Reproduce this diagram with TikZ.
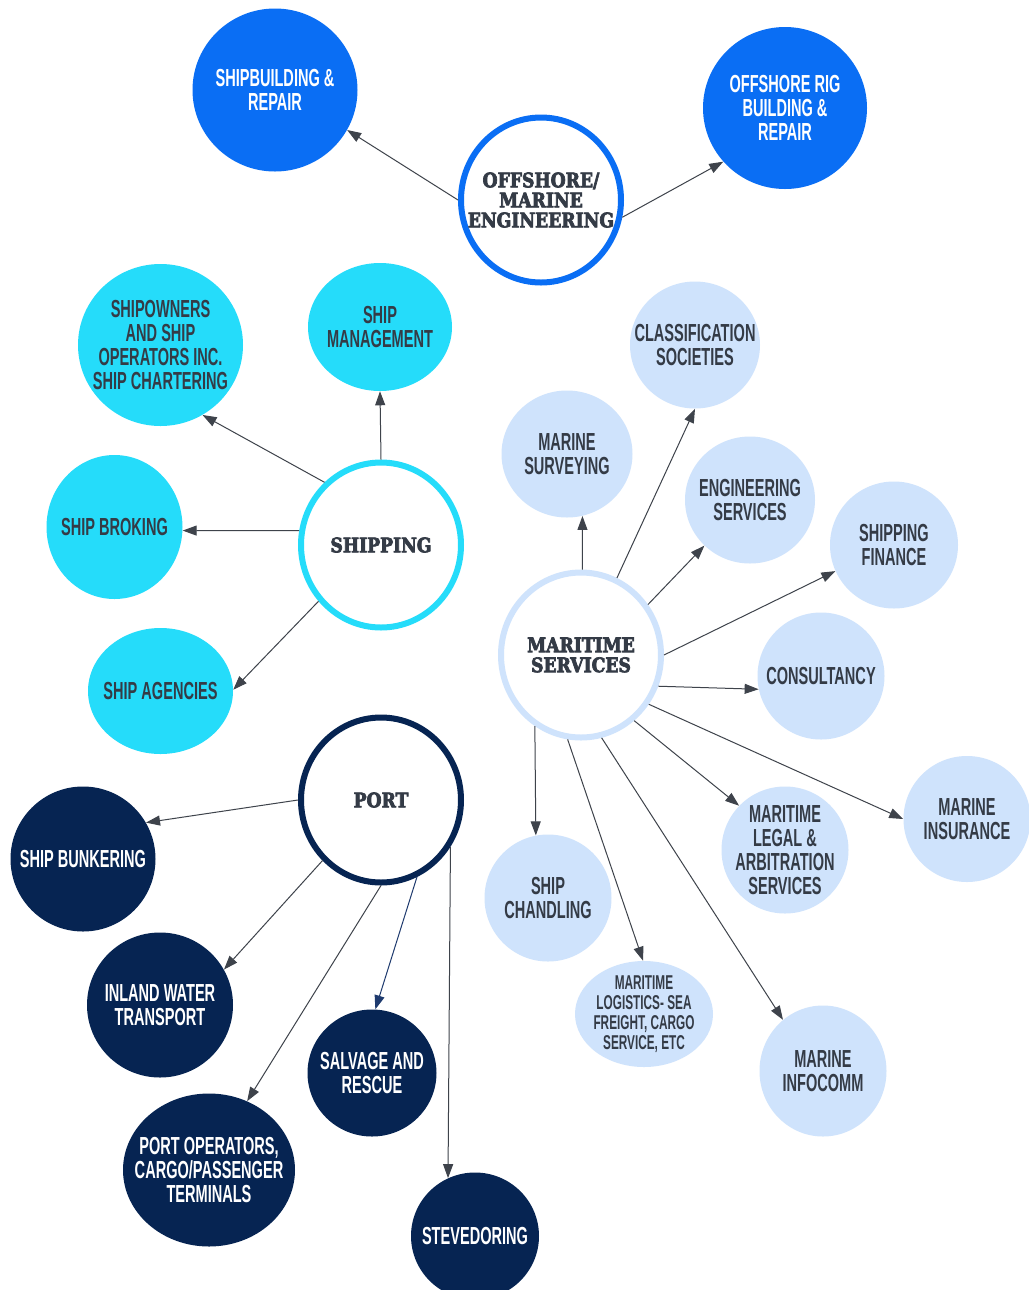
\documentclass[tikz,border=0pt]{standalone}
\usepackage{fontspec}
\usetikzlibrary{shapes.geometric,arrows.meta}
\newfontfamily\lblfont[FakeStretch=0.59]{Liberation Sans}
\newfontfamily\hubfont[UprightFont={* Bold}, FakeStretch=0.86, FakeBold=3.5]{DejaVu Serif}
\definecolor{cblue}{HTML}{0A6EF4}
\definecolor{ccyan}{HTML}{25DCFA}
\definecolor{clight}{HTML}{CFE3FC}
\definecolor{cnavy}{HTML}{062452}
\definecolor{txt}{HTML}{343B46}
\definecolor{arr}{HTML}{3E434B}
\definecolor{arrnavy}{HTML}{1E3A6E}
\tikzset{
  sz/.style 2 args={minimum width=#1*0.75pt, minimum height=#2*0.75pt},
  leaf/.style={ellipse, inner sep=0pt, draw=none},
  lt/.style={align=center, inner sep=0pt, text=txt, font=\lblfont\bfseries\fontsize{18.5}{18}\selectfont},
  ltw/.style={lt, text=white},
  lts/.style={lt, font=\lblfont\bfseries\fontsize{15}{15}\selectfont},
  hub/.style={ellipse, inner sep=0pt, fill=white, line width=4.5pt, minimum width=120pt, minimum height=123.75pt},
  ht/.style={align=center, inner sep=0pt, text=txt, font=\hubfont\fontsize{15}{15}\selectfont},
  conn/.style={draw=arr, line width=0.75pt, -{Triangle[length=10.5pt,width=7.5pt]}},
  bluenode/.style={leaf, fill=cblue},
  cyannode/.style={leaf, fill=ccyan},
  lightnode/.style={leaf, fill=clight},
  navynode/.style={leaf, fill=cnavy}
}
\begin{document}
\begin{tikzpicture}[x=0.75pt,y=-0.75pt]
\fill[white] (0,0) rectangle (1029,1290);
\useasboundingbox (0,0) rectangle (1029,1290);

% Offshore / Marine engineering
\node[hub, draw=cblue, label={[ht]center:{OFFSHORE/\\MARINE\\ENGINEERING}}] (off) at (541,200) {};
\node[bluenode, sz={165}{163}, label={[ltw]center:{SHIPBUILDING \&\\REPAIR}}] (sb) at (275,90) {};
\node[bluenode, sz={164}{162}, label={[ltw]center:{OFFSHORE RIG\\BUILDING \&\\REPAIR}}] (rig) at (785,108) {};

% Shipping
\node[hub, draw=ccyan, label={[ht]center:{SHIPPING}}] (shp) at (381,545) {};
\node[cyannode, sz={165}{162}, label={[lt]center:{SHIPOWNERS\\AND SHIP\\OPERATORS INC.\\SHIP CHARTERING}}] (own) at (160.5,345) {};
\node[cyannode, sz={144}{128}, label={[lt]center:{SHIP\\MANAGEMENT}}] (mgm) at (380,327) {};
\node[cyannode, sz={136}{144}, label={[lt]center:{SHIP BROKING}}] (brk) at (114.5,527) {};
\node[cyannode, sz={145}{126}, label={[lt]center:{SHIP AGENCIES}}] (agn) at (160.5,691) {};

% Maritime services
\node[hub, draw=clight, label={[ht]center:{MARITIME\\SERVICES}}] (mar) at (581,655) {};
\node[lightnode, sz={130}{127}, label={[lt]center:{CLASSIFICATION\\SOCIETIES}}] (cls) at (695,345) {};
\node[lightnode, sz={131}{127}, label={[lt]center:{MARINE\\SURVEYING}}] (srv) at (567,454) {};
\node[lightnode, sz={130}{127}, label={[lt]center:{ENGINEERING\\SERVICES}}] (eng) at (750,500) {};
\node[lightnode, sz={128}{127}, label={[lt]center:{SHIPPING\\FINANCE}}] (fin) at (894,545) {};
\node[lightnode, sz={127}{127}, label={[lt]center:{CONSULTANCY}}] (con) at (821,676) {};
\node[lightnode, sz={127}{126}, label={[lt]center:{MARINE\\INSURANCE}}] (ins) at (967,819) {};
\node[lightnode, sz={127}{127}, label={[lt]center:{MARITIME\\LEGAL \&\\ARBITRATION\\SERVICES}}] (leg) at (785,850) {};
\node[lightnode, sz={127}{127}, label={[lt]center:{SHIP\\CHANDLING}}] (chd) at (548,898) {};
\node[lightnode, sz={138}{106}, label={[lts]center:{MARITIME\\LOGISTICS- SEA\\FREIGHT, CARGO\\SERVICE, ETC}}] (log) at (644,1014) {};
\node[lightnode, sz={127}{131}, label={[lt]center:{MARINE\\INFOCOMM}}] (inf) at (823,1071) {};

% Port
\node[hub, draw=cnavy, label={[ht]center:{PORT}}] (prt) at (381,800) {};
\node[navynode, sz={145}{145}, label={[ltw]center:{SHIP BUNKERING}}] (bnk) at (83,859) {};
\node[navynode, sz={146}{145}, label={[ltw]center:{INLAND WATER\\TRANSPORT}}] (inl) at (160,1005) {};
\node[navynode, sz={129}{127}, label={[ltw]center:{SALVAGE AND\\RESCUE}}] (slv) at (372,1073) {};
\node[navynode, sz={172}{153}, label={[ltw]center:{PORT OPERATORS,\\CARGO/PASSENGER\\TERMINALS}}] (opr) at (209,1170) {};
\node[navynode, sz={128}{127}, label={[ltw]center:{STEVEDORING}}] (stv) at (475,1236) {};

% connectors
\draw[conn] (off.180) -- (sb.-29);
\draw[conn] (off.-12) -- (rig.221.6);

\draw[conn] (shp.132) -- (own.-59);
\draw[conn] (shp.90) -- (mgm.-90);
\draw[conn] (shp.170) -- (brk.-3);
\draw[conn] (shp.222.6) -- (agn.1);

\draw[conn] (mar.89.3) -- (srv.-76.6);
\draw[conn] (mar.65) -- (cls.-90);
\draw[conn] (mar.37.8) -- (eng.225.6);
\draw[conn] (mar.-0.7) -- (fin.204.6);
\draw[conn] (mar.-22.9) -- (con.192.7);
\draw[conn] (mar.-36.3) -- (ins.180);
\draw[conn] (mar.-51.6) -- (leg.136.3);
\draw[conn] (mar.237.4) -- (chd.101.8);
\draw[conn] (mar.261.3) -- (log.91);
\draw[conn] (mar.-76.8) -- (inf.128.8);

\draw[conn] (prt.180) -- (bnk.30);
\draw[conn] (prt.226.9) -- (inl.29);
\draw[conn] (prt.270.7) -- (opr.61.6);
\draw[conn, draw=arrnavy] (prt.-65.2) -- (slv.87.4);
\draw[conn] (prt.-34.1) -- (stv.115.8);
\end{tikzpicture}
\end{document}
